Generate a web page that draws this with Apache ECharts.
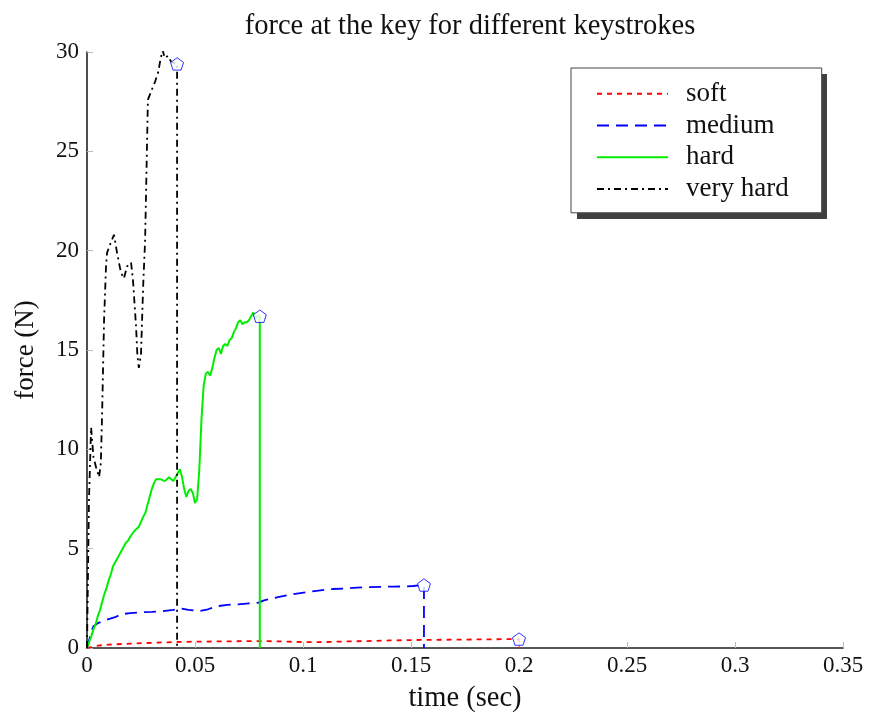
<!DOCTYPE html>
<html>
<head>
<meta charset="utf-8">
<script src="https://cdn.jsdelivr.net/npm/echarts@6/dist/echarts.min.js"></script>
<style>
html,body{margin:0;padding:0;background:#fff;}
#chart{width:874px;height:716px;}
</style>
</head>
<body>
<div id="chart"></div>
<script>
var seriesNames = ['soft', 'medium', 'hard', 'very hard'];
var xTicks = [0, 0.05, 0.1, 0.15, 0.2, 0.25, 0.3, 0.35];
var yTicks = [0, 5, 10, 15, 20, 25, 30];

var softData = [[0,0],[0.002,0.05],[0.005,0.12],[0.01,0.17],[0.02,0.22],[0.03,0.26],[0.04,0.3],[0.05,0.32],[0.06,0.33],[0.08,0.35],[0.09,0.33],[0.1,0.3],[0.11,0.3],[0.12,0.33],[0.13,0.35],[0.14,0.38],[0.15,0.4],[0.16,0.41],[0.17,0.42],[0.18,0.43],[0.19,0.44],[0.2,0.45],[0.2,0]];

var mediumData = [[0,0],[0.001,0.4],[0.002,0.8],[0.003,1.1],[0.005,1.25],[0.008,1.38],[0.010,1.45],[0.013,1.55],[0.016,1.7],[0.020,1.76],[0.025,1.8],[0.030,1.82],[0.035,1.85],[0.040,1.92],[0.043,2.0],[0.047,1.92],[0.052,1.86],[0.056,1.95],[0.060,2.1],[0.065,2.17],[0.070,2.2],[0.075,2.25],[0.079,2.27],[0.082,2.4],[0.089,2.57],[0.095,2.7],[0.102,2.82],[0.108,2.9],[0.114,2.97],[0.120,3.0],[0.125,3.04],[0.130,3.06],[0.136,3.08],[0.142,3.09],[0.147,3.1],[0.151,3.12],[0.156,3.17],[0.156,0]];

var hardData = [[0,0],[0.001,0.3],[0.002,0.6],[0.003,0.95],[0.004,1.2],[0.005,1.6],[0.006,1.9],[0.007,2.3],[0.008,2.7],[0.009,3.0],[0.010,3.4],[0.011,3.7],[0.012,4.1],[0.013,4.3],[0.014,4.5],[0.015,4.7],[0.016,4.9],[0.017,5.1],[0.018,5.3],[0.019,5.4],[0.020,5.6],[0.021,5.75],[0.022,5.9],[0.023,6.0],[0.024,6.1],[0.025,6.35],[0.026,6.6],[0.027,6.8],[0.028,7.2],[0.029,7.6],[0.030,8.0],[0.031,8.3],[0.032,8.5],[0.034,8.5],[0.036,8.4],[0.038,8.6],[0.040,8.4],[0.0415,8.7],[0.043,9.0],[0.044,8.6],[0.045,8.0],[0.046,7.6],[0.047,7.9],[0.048,8.0],[0.049,7.8],[0.050,7.3],[0.051,7.5],[0.052,9.0],[0.053,11.5],[0.054,13.2],[0.055,13.8],[0.056,13.9],[0.057,13.7],[0.058,14.1],[0.059,14.6],[0.060,15.0],[0.061,15.1],[0.062,14.8],[0.063,15.2],[0.064,15.3],[0.065,15.2],[0.066,15.5],[0.067,15.6],[0.068,15.9],[0.069,16.1],[0.070,16.4],[0.071,16.5],[0.072,16.3],[0.073,16.4],[0.074,16.4],[0.075,16.5],[0.076,16.7],[0.077,16.9],[0.078,16.6],[0.079,16.7],[0.080,16.7],[0.080,0]];

var veryHardData = [[0,0],[0.0009,7.4],[0.0019,11.1],[0.003,9.6],[0.0042,9.1],[0.0056,8.6],[0.0064,9.3],[0.007,11.8],[0.0079,16.5],[0.0088,19.2],[0.0093,19.9],[0.011,20.4],[0.0125,20.8],[0.0139,19.9],[0.0157,18.9],[0.0171,18.6],[0.0185,19.2],[0.0204,19.4],[0.0213,18.5],[0.0227,16.2],[0.0233,14.8],[0.024,14.1],[0.025,14.8],[0.026,18.2],[0.0269,20.5],[0.0282,27.6],[0.030,28.1],[0.0315,28.5],[0.033,29.0],[0.0338,29.5],[0.035,30.1],[0.036,29.7],[0.0375,29.8],[0.039,29.5],[0.0417,29.4],[0.0417,0]];

var endPoints = [[0.2,0.45],[0.156,3.17],[0.080,16.7],[0.0417,29.4]];

var serif = 'Liberation Serif';
var pentagon = 'path://M0,-1L0.951,-0.309L0.588,0.809L-0.588,0.809L-0.951,-0.309Z';

function lineSeries(name, data, color, type, width) {
  return {
    name: name, type: 'line', data: data, symbol: 'none', showSymbol: false,
    animation: false, z: 2,
    lineStyle: { color: color, width: width, type: type },
    itemStyle: { color: color }
  };
}

var chart = echarts.init(document.getElementById('chart'), null, {renderer: 'canvas'});
chart.setOption({
  backgroundColor: '#fff',
  animation: false,
  title: {
    text: 'force at the key for different keystrokes',
    left: 465, textAlign: 'center', top: 7,
    textStyle: { fontFamily: serif, fontSize: 28.5, fontWeight: 'normal', color: '#111' }
  },
  graphic: [{
    type: 'rect', z: -1, silent: true,
    shape: { x: 577, y: 74, width: 250, height: 145 },
    style: { fill: '#404040' }
  }],
  grid: { left: 87, right: 31, top: 52, bottom: 68, containLabel: false, outerBoundsMode: 'none' },
  legend: {
    data: seriesNames,
    orient: 'vertical',
    left: 571, top: 68,
    padding: [10, 33, 8, 25],
    itemGap: 0,
    itemWidth: 71, itemHeight: 14,
    backgroundColor: '#fff',
    borderColor: '#444', borderWidth: 1,
    itemStyle: { opacity: 0, color: 'rgba(0,0,0,0)', borderColor: 'rgba(0,0,0,0)', borderWidth: 0 },
    textStyle: { fontFamily: serif, fontSize: 27, color: '#111', lineHeight: 31.7, padding: [0, 0, 0, 13] }
  },
  xAxis: {
    type: 'value', min: 0, max: 0.35, interval: 0.05,
    name: 'time (sec)', nameLocation: 'middle', nameGap: 36,
    nameTextStyle: { fontFamily: serif, fontSize: 28.5, color: '#111' },
    axisLine: { show: true, onZero: false, lineStyle: { color: '#222', width: 1.6 } },
    axisTick: { show: true, inside: true, length: 6, lineStyle: { color: '#bbb', width: 1 } },
    axisLabel: { fontFamily: serif, fontSize: 23, color: '#111', margin: 6,
      formatter: function (v) { return String(+v.toFixed(2)); } },
    splitLine: { show: false }
  },
  yAxis: {
    type: 'value', min: 0, max: 30, interval: 5,
    name: 'force (N)', nameLocation: 'middle', nameGap: 48,
    nameTextStyle: { fontFamily: serif, fontSize: 27, color: '#111' },
    axisLine: { show: true, onZero: false, lineStyle: { color: '#222', width: 1.6 } },
    axisTick: { show: true, inside: true, length: 6, lineStyle: { color: '#bbb', width: 1 } },
    axisLabel: { fontFamily: serif, fontSize: 23, color: '#111', margin: 8 },
    splitLine: { show: false }
  },
  series: [
    lineSeries(seriesNames[0], softData, '#ff0000', [5, 5], 1.8),
    lineSeries(seriesNames[1], mediumData, '#0000ff', [12, 7], 1.8),
    lineSeries(seriesNames[2], hardData, '#00ee00', 'solid', 2),
    lineSeries(seriesNames[3], veryHardData, '#000000', [7, 4, 2, 4], 1.8),
    {
      name: 'ends', type: 'scatter', data: endPoints, z: 5, animation: false,
      symbol: pentagon, symbolSize: 13, symbolKeepAspect: true,
      itemStyle: { color: '#fff', borderColor: '#0000ff', borderWidth: 1 }
    }
  ]
});
</script>
</body>
</html>
